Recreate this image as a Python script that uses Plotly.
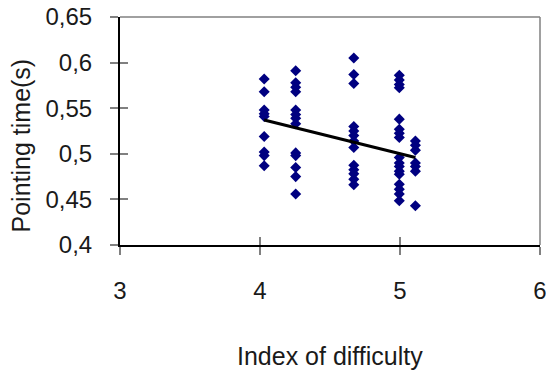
import plotly.graph_objects as go

# Data
id_vals_1 = [4.03] * 9
time_vals_1 = [0.582, 0.568, 0.548, 0.544, 0.541, 0.519, 0.502, 0.498, 0.487]

id_vals_2 = [4.255] * 13
time_vals_2 = [0.591, 0.578, 0.573, 0.568, 0.548, 0.543, 0.539, 0.533,
               0.501, 0.498, 0.485, 0.475, 0.456]

id_vals_3 = [4.67] * 13
time_vals_3 = [0.605, 0.587, 0.577, 0.530, 0.525, 0.520, 0.514, 0.507,
               0.4875, 0.4825, 0.478, 0.472, 0.466]

id_vals_4 = [4.995] * 17
time_vals_4 = [0.586, 0.581, 0.576, 0.5725, 0.538, 0.527, 0.5225, 0.518,
               0.496, 0.490, 0.486, 0.481, 0.4775, 0.4665, 0.461, 0.456, 0.4485]

id_vals_5 = [5.11] * 7
time_vals_5 = [0.514, 0.5095, 0.504, 0.490, 0.486, 0.481, 0.443]

trend_x = [4.03, 5.11]
trend_y = [0.537, 0.496]

x_ticks = [3, 4, 5, 6]
y_ticks = [0.4, 0.45, 0.5, 0.55, 0.6, 0.65]

x_title = "Index of difficulty"
y_title = "Pointing time(s)"

all_x = id_vals_1 + id_vals_2 + id_vals_3 + id_vals_4 + id_vals_5
all_y = time_vals_1 + time_vals_2 + time_vals_3 + time_vals_4 + time_vals_5

FONT = "Liberation Sans, Arial, sans-serif"
TXT = "#1a1a1a"
GRAY = "#808080"

fig = go.Figure()
# helper trace for the overlay axes (crossing ticks), invisible
fig.add_trace(go.Scatter(x=trend_x, y=trend_y, xaxis="x2", yaxis="y2",
                         mode="markers", opacity=0, marker=dict(size=1),
                         showlegend=False, hoverinfo="skip"))
fig.add_trace(go.Scatter(
    x=all_x, y=all_y, mode="markers",
    marker=dict(symbol="diamond", size=8.5, color="#000080", line=dict(width=0)),
    showlegend=False, hoverinfo="skip"))
fig.add_trace(go.Scatter(
    x=trend_x, y=trend_y, mode="lines",
    line=dict(color="black", width=3),
    showlegend=False, hoverinfo="skip"))

fig.update_layout(
    width=546, height=374,
    margin=dict(l=120, r=6, t=17, b=129),
    paper_bgcolor="white", plot_bgcolor="white",
    separators=", ",
    font=dict(family=FONT, color=TXT),
    xaxis=dict(
        range=[3, 6], tickvals=x_ticks, ticks="outside", ticklen=8,
        tickwidth=1.5, tickcolor=GRAY,
        showline=True, linecolor="black", linewidth=2,
        showgrid=False, zeroline=False,
        tickfont=dict(size=24, family=FONT, color=TXT),
        ticklabelstandoff=15, ticklabeloverflow="allow",
        automargin=False,
    ),
    yaxis=dict(
        range=[0.4, 0.65], tickvals=y_ticks, ticks="outside", ticklen=8,
        tickwidth=1.5, tickcolor=GRAY,
        showline=True, linecolor="black", linewidth=2,
        showgrid=False, zeroline=False,
        tickfont=dict(size=24, family=FONT, color=TXT),
        ticklabelstandoff=13,
        automargin=False,
    ),
    xaxis2=dict(
        range=[3, 6], tickvals=x_ticks, ticks="inside", ticklen=8,
        tickwidth=1.5, tickcolor=GRAY, overlaying="x", anchor="y2",
        side="bottom", showticklabels=False, showline=False,
        showgrid=False, zeroline=False,
    ),
    yaxis2=dict(
        range=[0.4, 0.65], tickvals=y_ticks, ticks="inside", ticklen=8,
        tickwidth=1.5, tickcolor=GRAY, overlaying="y", anchor="x2",
        side="left", showticklabels=False, showline=False,
        showgrid=False, zeroline=False,
    ),
    shapes=[
        dict(type="line", xref="paper", yref="paper", x0=0, x1=1, y0=1, y1=1,
             line=dict(color=GRAY, width=1.5), layer="below"),
        dict(type="line", xref="paper", yref="paper", x0=1, x1=1, y0=0, y1=1,
             line=dict(color=GRAY, width=1.5), layer="below"),
    ],
    annotations=[
        dict(text=x_title, xref="paper", yref="paper", x=0.5, y=-0.489,
             xanchor="center", yanchor="middle", showarrow=False,
             font=dict(size=25, family=FONT, color=TXT)),
        dict(text=y_title, xref="paper", yref="paper", x=-0.236, y=0.436,
             xanchor="center", yanchor="middle", showarrow=False, textangle=-90,
             font=dict(size=25, family=FONT, color=TXT)),
    ],
)

fig.write_html("out.html")
